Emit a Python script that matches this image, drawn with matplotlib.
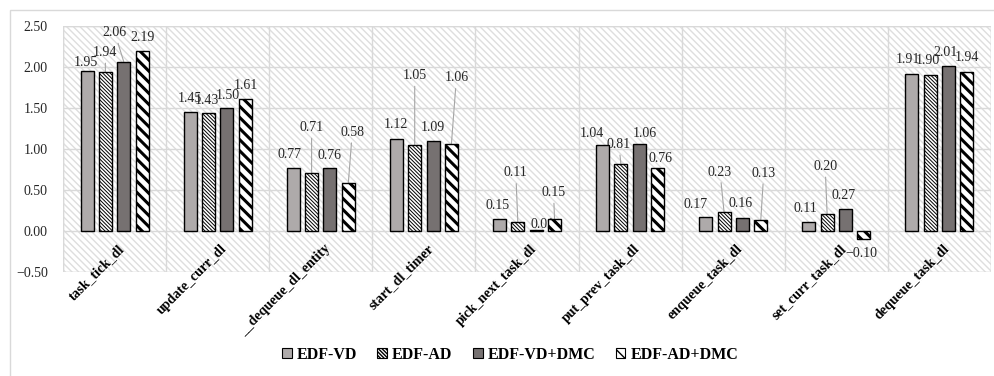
import numpy as np
import matplotlib.pyplot as plt
from matplotlib.patches import Rectangle, Patch

plt.rcParams['font.family'] = ['Liberation Serif', 'DejaVu Serif']
plt.rcParams['axes.unicode_minus'] = True

# 各调度函数的开销（四种策略）
functions = ['task_tick_dl', 'update_curr_dl', '__dequeue_dl_entity', 'start_dl_timer',
             'pick_next_task_dl', 'put_prev_task_dl', 'enqueue_task_dl',
             'set_curr_task_dl', 'dequeue_task_dl']
edf_vd = [1.95, 1.45, 0.77, 1.12, 0.15, 1.04, 0.17, 0.11, 1.91]
edf_ad = [1.94, 1.43, 0.71, 1.05, 0.11, 0.81, 0.23, 0.20, 1.90]
edf_vd_dmc = [2.06, 1.50, 0.76, 1.09, 0.01, 1.06, 0.16, 0.27, 2.01]
edf_ad_dmc = [2.19, 1.61, 0.58, 1.06, 0.15, 0.76, 0.13, -0.10, 1.94]
series_names = ['EDF-VD', 'EDF-AD', 'EDF-VD+DMC', 'EDF-AD+DMC']
y_ticks = [-0.5, 0.0, 0.5, 1.0, 1.5, 2.0, 2.5]

# 数据标签的偏移量（像素），偏移较大的带引导线
label_offsets = [
    [(-1, 8), (0, 13), (-4, 13), (0, 14), (-2, 13), (-11, 12), (-10, 12), (-3, 13), (-4, 14)],
    [(0, 19), (-2, 13), (0, 45), (0, 69), (-2, 49), (-2, 20), (-4, 40), (-2, 48), (-2, 14)],
    [(-9, 29), (1, 12), (0, 13), (0, 14), (6, 6), (6, 10), (-2, 14), (-2, 13), (-3, 13)],
    [(0, 13), (1, 13), (4, 51), (5, 66), (-1, 26), (3, 10), (3, 47), (-3, -14), (0, 14)],
]

styles = [
    dict(facecolor='#aeaaaa', hatch=None, hlw=1.0),
    dict(facecolor='white', hatch='\\' * 9, hlw=0.7),
    dict(facecolor='#767171', hatch=None, hlw=1.0),
    dict(facecolor='white', hatch='\\\\\\', hlw=2.2),
]

text_color = '#262626'
grid_color = '#d9d9d9'

fig = plt.figure(figsize=(9.95, 3.76), dpi=100)
W, H = 995, 376
ax = fig.add_axes([63 / W, (H - 272) / H, 928 / W, (272 - 25.5) / H])

# 图表外框
fig.patches.append(Rectangle((10 / W, -0.1), 1.2, 1 - 9.5 / H + 0.1, transform=fig.transFigure,
                             fill=False, edgecolor=grid_color, linewidth=1, zorder=0))

# 绘图区斜线底纹
bg = Rectangle((0, 0), 1, 1, transform=ax.transAxes, facecolor='white',
               edgecolor='#dedede', hatch='\\\\\\\\\\', linewidth=1, zorder=0)
ax.add_patch(bg)
ax.set_facecolor('none')

x = np.arange(len(functions))
pitch = 0.178
bar_w = 0.126
all_series = [edf_vd, edf_ad, edf_vd_dmc, edf_ad_dmc]

for j, (vals, st) in enumerate(zip(all_series, styles)):
    xs = x + (j - 1.5) * pitch
    bars = ax.bar(xs, vals, width=bar_w, facecolor=st['facecolor'], edgecolor='black',
                  linewidth=1.0, hatch=st['hatch'], zorder=3)
    for b in bars:
        if hasattr(b, 'set_hatch_linewidth'):
            b.set_hatch_linewidth(st['hlw'])
    for i, v in enumerate(vals):
        dx, dy = label_offsets[j][i]
        txt = f'{v:.2f}'.replace('-', '\u2212')
        leader = abs(dy) >= 19
        ax.annotate(txt, xy=(xs[i], v), xytext=(dx, dy), textcoords='offset pixels',
                    ha='center', va='center', fontsize=10, color=text_color, zorder=2.5,
                    arrowprops=dict(arrowstyle='-', color='#a6a6a6', lw=0.8,
                                    shrinkA=1, shrinkB=0) if leader else None)

# 网格线
for yt in y_ticks:
    ax.axhline(yt, color=grid_color, linewidth=1, zorder=1)
for b in np.arange(-0.5, len(functions), 1.0):
    ax.axvline(b, color=grid_color, linewidth=1, zorder=1)

ax.set_xlim(-0.5, len(functions) - 0.5)
ax.set_ylim(-0.5, 2.5)
ax.set_yticks(y_ticks)
ax.set_yticklabels([f'{t:.2f}'.replace('-', '\u2212') for t in y_ticks],
                   fontsize=10, color=text_color)
ax.tick_params(axis='y', length=0, pad=11)
ax.set_xticks([])
for s in ax.spines.values():
    s.set_visible(False)

# 类别标签（斜45度，贴在零线下方）
for i, name in enumerate(functions):
    ax.annotate(name, xy=(i, 0), xytext=(3, -11), textcoords='offset pixels',
                rotation=45, rotation_mode='anchor', ha='right', va='top',
                fontsize=10, fontweight='bold', color='black', zorder=5,
                annotation_clip=False)

handles = []
for st in styles:
    h = Patch(facecolor=st['facecolor'], edgecolor='black', hatch=st['hatch'], linewidth=0.8)
    if hasattr(h, 'set_hatch_linewidth'):
        h.set_hatch_linewidth(min(st['hlw'], 1.5))
    handles.append(h)
fig.legend(handles, series_names, loc='center', bbox_to_anchor=(510 / W, (H - 355) / H),
           ncol=4, frameon=False, prop=dict(weight='bold', size=11.5),
           handlelength=0.6, handleheight=0.6, handletextpad=0.3, columnspacing=1.3)

fig.savefig('out.png', dpi=100)
